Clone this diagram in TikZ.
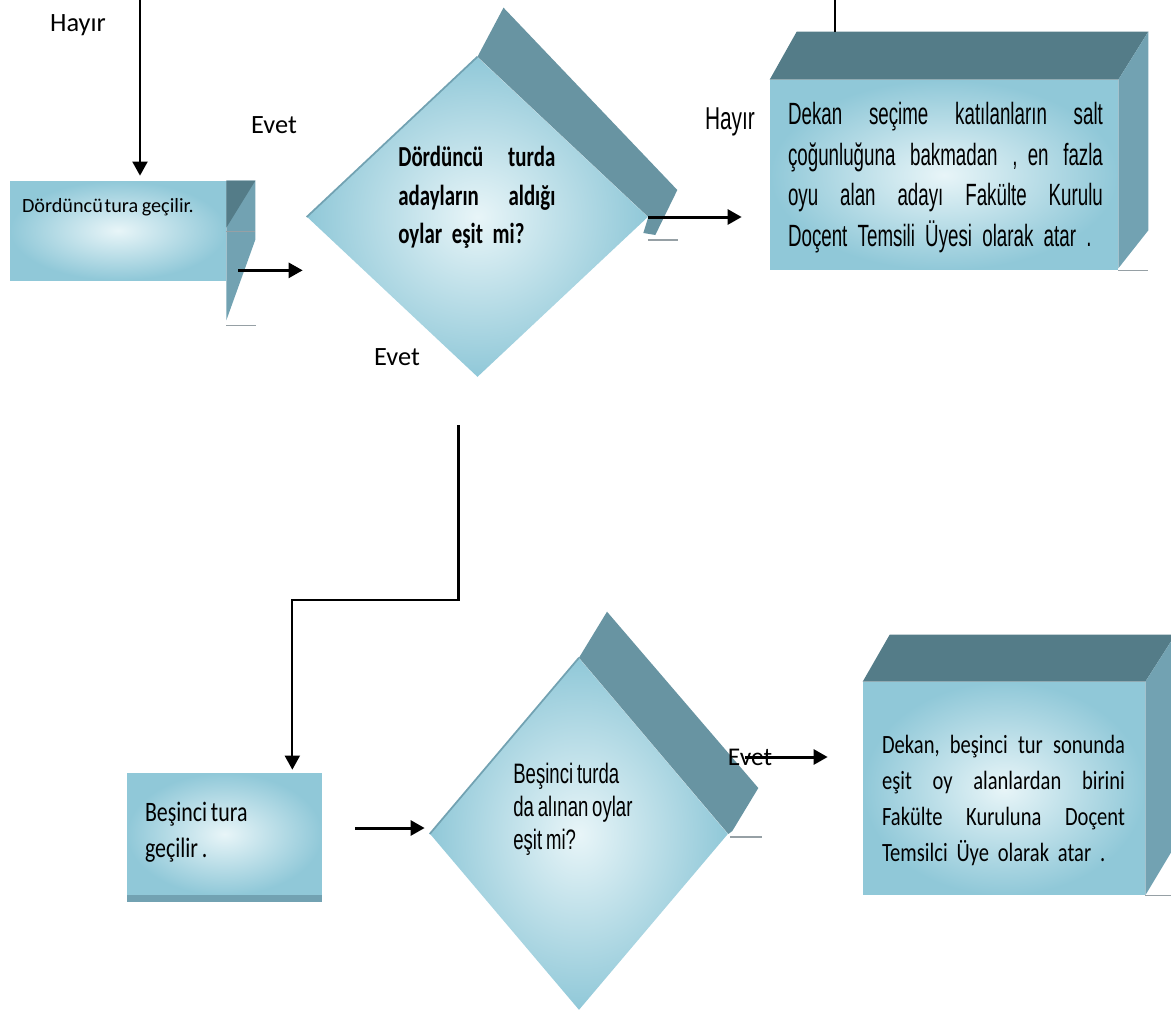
\documentclass[tikz,border=0pt]{standalone}
\usepackage{fontspec}
\setmainfont{Carlito}
\newfontfamily\calnarrow{Carlito}[FakeStretch=0.78,WordSpace=0.75]
\newfontfamily\calbold{Carlito}[FakeStretch=0.72,WordSpace=0.75]
\newfontfamily\arinarrow{Liberation Sans}[FakeStretch=0.66,WordSpace=0.75]
\newfontfamily\arinarrower{Liberation Sans}[FakeStretch=0.61,WordSpace=0.7]
\usetikzlibrary{shapes.geometric,arrows.meta,positioning}

\definecolor{faceedge}{RGB}{144,200,216}
\definecolor{facelight}{RGB}{232,245,248}
\definecolor{topdark}{RGB}{84,124,136}
\definecolor{sidemid}{RGB}{114,162,178}
\definecolor{backdark}{RGB}{104,148,162}
\definecolor{edgegray}{RGB}{150,160,165}

\newcommand\jfill{\hskip 0pt plus 1filll\relax}

\tikzset{
  frontbox/.style={inner sep=0pt, inner color=facelight, outer color=faceedge},
  frontdiamond/.style={diamond, inner sep=0pt, inner color=facelight, outer color=faceedge},
  topface/.style={fill=topdark},
  sideface/.style={fill=sidemid},
  backface/.style={fill=backdark},
  edgeline/.style={draw=edgegray, line width=0.8pt},
  flow/.style={->, line width=1.7pt},
  wire/.style={line width=1.2pt},
  answer/.style={inner sep=0pt, font=\fontsize{15}{18}\selectfont},
  boxtext/.style={anchor=north west, inner sep=0pt, align=left},
}

\begin{document}
\begin{tikzpicture}[x=0.02cm, y=-0.02cm, >={Triangle[length=8pt,width=8.5pt]}]
\useasboundingbox (0,0) rectangle (1171,1019);
\clip (0,0) rectangle (1171,1019);

%% Fourth round box
\node[frontbox, minimum width=4.32cm, minimum height=1.98cm] (tur4) at (118,230.5) {};
\fill[sideface] (tur4.north east) -- ++(29,0) -- ++(0,59) -- ([shift={(0,40)}]tur4.south east) -- cycle;
\fill[topface] (tur4.north east) -- ++(29,0) -- ([shift={(0,47)}]tur4.north east) -- cycle;
\draw[edgeline] ([shift={(0,51)}]tur4.north east) -- ++(29,0);
\draw[edgeline] ([shift={(0,45)}]tur4.south east) -- ++(30,0);
\node[boxtext, font=\fontsize{11.5}{14}\selectfont] (tur4text) at ([shift={(12,17)}]tur4.north west) {Dördüncü\hspace{1pt}tura\hspace{2pt}geçilir.};

%% Fourth round question
\node[frontdiamond, minimum width=6.82cm, minimum height=6.4cm] (q4) at (477.5,217) {};
\fill[backface] (q4.north) -- ++(26,-49) -- ([shift={(29,-27)}]q4.east) -- ([shift={(7,18)}]q4.east) -- ([shift={(-5,16)}]q4.east) -- (q4.east) -- cycle;
\draw[sidemid, line width=1pt] (q4.west) -- (q4.north);
\draw[edgeline] ([shift={(0,23)}]q4.east) -- ++(30,0);
\node[boxtext, text width=3.14cm, font=\calbold\bfseries\fontsize{16.5}{21.8}\selectfont] (q4text) at (398,146) {Dördüncü\jfill turda\\adayların\jfill aldığı\\oylar eşit mi?};

%% Dean appoints (fourth round)
\node[frontbox, minimum width=6.96cm, minimum height=3.8cm] (atar4) at (944,175) {};
\fill[topface] (atar4.north west) -- ++(27,-48) coordinate (atar4back) -- ([shift={(30,-48)}]atar4.north east) -- (atar4.north east) -- cycle;
\fill[sideface] (atar4.north east) -- ++(30,-48) -- ([shift={(30,-40)}]atar4.south east) -- ([shift={(0,-2)}]atar4.south east) -- cycle;
\draw[edgeline] (atar4.south east) -- ++(30,0);
\node[boxtext, text width=6.3cm, font=\arinarrower\fontsize{17.5}{23.2}\selectfont] (atar4text) at ([shift={(18,22)}]atar4.north west) {Dekan\jfill seçime\jfill katılanların\jfill salt\\çoğunluğuna\jfill bakmadan\jfill , en\jfill fazla\\oyu\jfill alan\jfill adayı\jfill Fakülte\jfill Kurulu\\Doçent Temsili Üyesi olarak atar .};

%% Fifth round box
\node[frontbox, minimum width=3.9cm, minimum height=2.44cm] (tur5) at (224.5,834) {};
\fill[sidemid] (tur5.south west) rectangle ([shift={(0,7)}]tur5.south east);
\node[boxtext, font=\calnarrow\fontsize{16}{20.5}\selectfont] (tur5text) at ([shift={(18,29)}]tur5.north west) {Beşinci tura\\geçilir .};

%% Fifth round question
\node[frontdiamond, minimum width=5.96cm, minimum height=7.04cm] (q5) at (579,834) {};
\fill[backface] (q5.north) -- ++(28,-46) -- ([shift={(30,-46)}]q5.east) -- ([shift={(4,-3)}]q5.east) -- (q5.east) -- cycle;
\draw[sidemid, line width=1pt] (q5.west) -- (q5.north);
\draw[edgeline] ([shift={(2,3)}]q5.east) -- ++(32,0);
\node[boxtext, font=\arinarrow\fontsize{16}{18.8}\selectfont] (q5text) at (513,763) {Beşinci turda\\da alınan oylar\\eşit mi?};

%% Dean appoints (fifth round)
\node[frontbox, minimum width=5.64cm, minimum height=4.26cm] (atar5) at (1004,788.5) {};
\fill[topface] (atar5.north west) -- ++(27,-47) -- ([shift={(30,-47)}]atar5.north east) -- (atar5.north east) -- cycle;
\fill[sideface] (atar5.north east) -- ++(30,-47) -- ([shift={(30,-50)}]atar5.south east) -- (atar5.south east) -- cycle;
\draw[edgeline] (atar5.south east) -- ++(30,0);
\node[boxtext, text width=4.86cm, font=\calnarrow\fontsize{15}{20.5}\selectfont] (atar5text) at ([shift={(19,53)}]atar5.north west) {Dekan,\jfill beşinci\jfill tur\jfill sonunda\\eşit\jfill oy\jfill alanlardan\jfill birini\\Fakülte\jfill Kuruluna\jfill Doçent\\Temsilci Üye olarak atar .};

%% Answers
\node[answer] (hayir4) at (78,25) {Hayır};
\node[answer] (evet4) at (274,125) {Evet};
\node[answer, font=\arinarrow\fontsize{18}{20}\selectfont] (hayir5) at (730,122) {Hayır};
\node[answer] (evet5) at (397,357) {Evet};
\node[answer, font=\fontsize{14.5}{17}\selectfont] (evet6) at (750,757) {Evet};

%% Connectors
\coordinate (from4) at (140,0);
\draw[wire, ->, shorten >=0.1cm] (from4) -- (from4 |- tur4.north);
\draw[flow, shorten >=0.08cm] (tur4.south east) ++(12,-10) coordinate (tur4out) -- (tur4out -| q4.west);
\draw[flow, shorten >=0.56cm] (q4.east) -- (q4.east -| atar4.west);
\coordinate (from5) at (835,0);
\draw[wire] (from5) -- (from5 |- atar4back);
\coordinate (evet4out) at ([shift={(-19,48)}]q4.south);
\draw[wire, ->, shorten >=0.06cm] (evet4out) -- ++(0,175) -| ([xshift=-0.6cm]tur5.north east);
\draw[flow, shorten >=0.1cm] (tur5.east) ++(33,-6) coordinate (tur5out) -- (tur5out -| q5.west);
\draw[flow, shorten >=0.7cm] (q5.east) ++(17,-77) coordinate (q5out) -- (q5out -| atar5.west);

\end{tikzpicture}
\end{document}
